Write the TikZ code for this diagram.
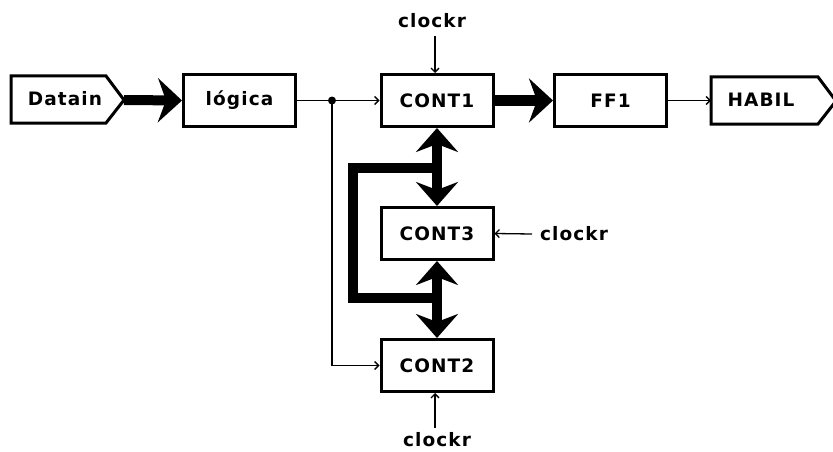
\documentclass[tikz,border=0pt]{standalone}
\usepackage{fontspec}
\setmainfont{DejaVu Sans}[LetterSpace=6]
\usetikzlibrary{arrows.meta}
\tikzset{
  block/.style={draw, line width=3pt, minimum width=112pt, minimum height=52pt,
    inner sep=0pt, font=\fontsize{18.5}{18.5}\bfseries},
  lbl/.style={inner sep=0pt, font=\fontsize{18.5}{18.5}\bfseries},
  port/.style={line width=3pt, line join=miter},
  bus/.style={line width=10pt, line join=miter},
  busarrow/.style={line width=10pt,
    -{Stealth[length=24pt, width=44pt, inset=8pt]}},
  busboth/.style={line width=10pt,
    {Stealth[length=24pt, width=42pt, inset=8pt]}-{Stealth[length=24pt, width=42pt, inset=8pt]}},
  wire/.style={line width=1.3pt},
  wirearrow/.style={line width=1.3pt, -{Straight Barb[length=4pt, width=8pt]}},
}
\begin{document}
\begin{tikzpicture}[x=1pt, y=-1pt]
  \useasboundingbox (0,0) rectangle (833,452);

  % input and output ports
  \draw[port] (11,76) -- (106,76) -- (124,100) -- (106,123) -- (11,123) -- cycle;
  \node[lbl] (datain) at (65,99) {Datain};
  \coordinate (datain tip) at (124,100);

  \draw[port] (711,77) -- (818,77) -- (836,101) -- (818,124) -- (711,124) -- cycle;
  \node[lbl] (habil) at (761,100) {HABIL};
  \coordinate (habil in) at (711,100.5);

  % blocks
  \node[block] (logica) at (239.5,100.5) {lógica};
  \node[block] (cont1) at (437,100.5) {CONT1};
  \node[block] (ff1) at (610.5,100.5) {FF1};
  \node[block] (cont3) at (437,233.5) {CONT3};
  \node[block] (cont2) at (437,365.5) {CONT2};

  % clock labels
  \node[lbl] (clk1) at (432,21) {clockr};
  \node[lbl] (clk3) at (574,234) {clockr};
  \node[lbl] (clk2) at (437,440) {clockr};

  % data path
  \draw[busarrow] (datain tip) -- (logica.west);
  \draw[busarrow] (cont1.east) -- (ff1.west);
  \draw[wirearrow] (ff1.east) -- (habil in);

  \coordinate (split) at (332,100.5);
  \draw[wire] (logica.east) -- (split);
  \draw[wirearrow] (split) -- (cont1.west);
  \draw[wirearrow] (split) |- (cont2.west);
  \fill (split) circle (4pt);

  % clock inputs
  \coordinate (clk1 out) at (435,36);
  \coordinate (clk3 out) at (532,234);
  \coordinate (clk2 out) at (435,428);
  \draw[wirearrow] (clk1 out) -- (cont1.north -| clk1 out);
  \draw[wirearrow] (clk3 out) -- (cont3.east);
  \draw[wirearrow] (clk2 out) -- (cont2.south -| clk2 out);

  % counter bus with feedback loop
  \coordinate (tap1) at (437,168);
  \coordinate (tap2) at (437,298);
  \draw[bus] (tap1) -- (353,168) -- (353,298) -- (tap2);
  \draw[busboth] (cont1.south) -- (cont3.north);
  \draw[busboth] (cont3.south) -- (cont2.north);
\end{tikzpicture}
\end{document}
